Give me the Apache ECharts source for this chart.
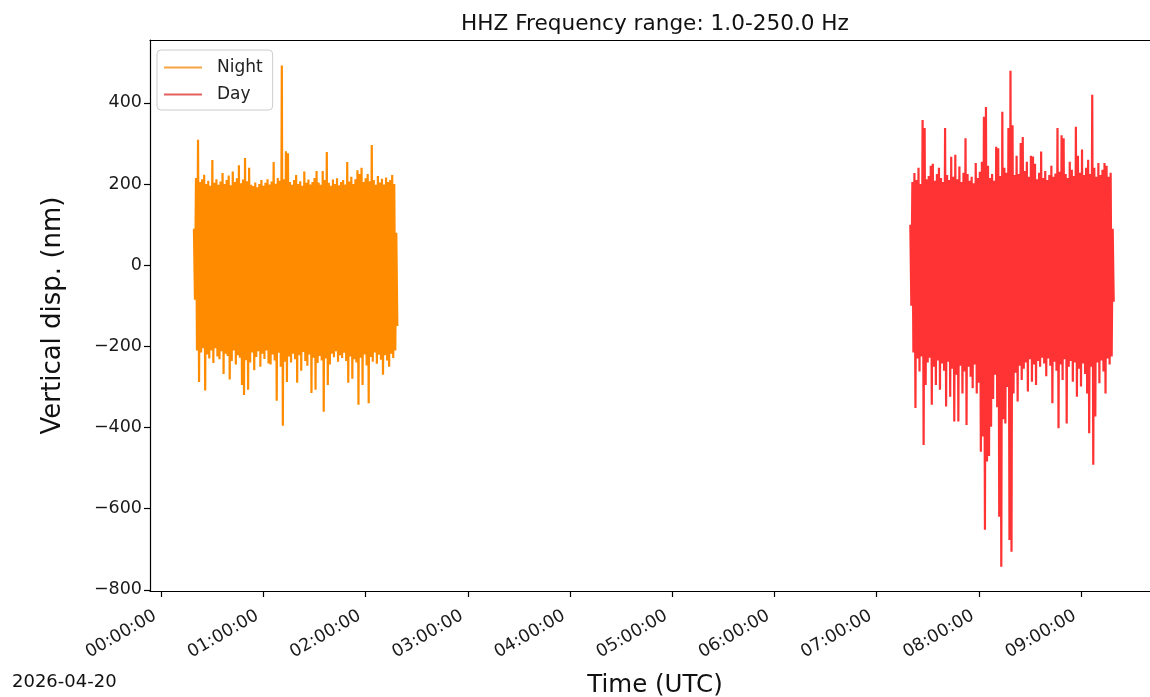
<!DOCTYPE html>
<html>
<head>
<meta charset="utf-8">
<script src="https://cdn.jsdelivr.net/npm/echarts@6/dist/echarts.min.js"></script>
<style>
html,body{margin:0;padding:0;background:#fff;}
#chart{width:1150px;height:697px;}
</style>
</head>
<body>
<div id="chart"></div>
<script>
// ---- Data ----
// Time in hours (UTC). Each trace is given as per-bin max / min displacement (nm).
const xTickValues = [0, 1, 2, 3, 4, 5, 6, 7, 8, 9];
const xTickLabels = ["00:00:00","01:00:00","02:00:00","03:00:00","04:00:00","05:00:00","06:00:00","07:00:00","08:00:00","09:00:00"];
const yTickValues = [-800, -600, -400, -200, 0, 200, 400];

const binHours = 0.02;
const nightStart = 0.32;
const dayStart = 7.33;

const nightUpper = [90,215,309,205,212,223,200,208,196,259,203,212,198,206,227,200,210,221,197,231,
  205,214,246,202,211,264,207,240,198,195,204,192,200,210,196,203,212,199,206,254,
  201,215,208,492,212,281,276,205,198,210,222,200,207,196,231,203,211,199,205,215,
  232,204,198,232,210,279,203,196,211,200,214,197,205,210,199,254,206,218,200,212,
  234,225,240,205,214,225,207,296,210,198,220,204,213,199,216,205,210,222,200,80];
const nightLower = [-85,-210,-288,-215,-205,-309,-220,-230,-210,-241,-205,-225,-232,-212,-268,-218,-224,-282,-236,-210,
  -245,-222,-228,-295,-320,-234,-307,-240,-215,-259,-226,-212,-250,-218,-231,-210,-242,-245,-220,-235,
  -334,-216,-250,-396,-238,-288,-225,-240,-218,-232,-290,-222,-260,-214,-236,-248,-220,-315,-228,-307,
  -241,-224,-235,-361,-230,-295,-245,-218,-227,-212,-238,-222,-229,-216,-236,-290,-225,-280,-232,-240,
  -344,-228,-295,-220,-247,-340,-226,-238,-215,-243,-221,-233,-270,-222,-235,-250,-218,-229,-210,-150];

const dayUpper = [100,205,227,210,240,200,358,338,212,220,245,250,208,225,240,215,205,338,222,210,
  267,218,272,212,243,205,228,313,225,208,218,202,252,215,230,255,366,390,245,215,
  225,208,292,288,220,378,240,228,338,479,345,222,270,225,301,316,232,255,218,270,
  268,250,212,228,280,215,232,210,222,245,218,226,338,230,320,313,225,215,255,235,
  220,341,270,228,285,222,240,260,225,420,240,218,252,222,235,252,245,218,228,90];
const dayLower = [-100,-215,-352,-230,-262,-225,-443,-295,-240,-228,-344,-250,-295,-235,-307,-242,-260,-348,-238,-324,
  -255,-385,-270,-385,-248,-316,-262,-394,-250,-275,-303,-245,-316,-290,-460,-422,-652,-484,-470,-398,
  -330,-270,-350,-620,-743,-380,-390,-300,-677,-706,-316,-265,-336,-248,-283,-255,-240,-311,-232,-287,
  -245,-295,-236,-250,-228,-242,-274,-230,-248,-340,-238,-260,-402,-245,-283,-232,-390,-250,-236,-287,
  -240,-324,-255,-299,-242,-268,-316,-414,-250,-492,-373,-240,-291,-235,-262,-316,-230,-245,-225,-90];

function trace(start, upper, lower) {
  const pts = [];
  for (let k = 0; k < upper.length; k++) {
    pts.push([start + k * binHours, upper[k]]);
    pts.push([start + (k + 0.5) * binHours, lower[k]]);
  }
  return pts;
}

const FONT = 'DejaVu Sans';
const X_MIN = -0.11, X_MAX = 9.773;
const chart = echarts.init(document.getElementById('chart'), null, {renderer: 'canvas'});
const minus = v => String(v).replace('-', '\u2212');

chart.setOption({
  animation: false,
  backgroundColor: '#fff',
  title: {
    text: 'HHZ Frequency range: 1.0-250.0 Hz',
    left: 650, top: 8, textAlign: 'center',
    textStyle: {fontFamily: FONT, fontSize: 21.6, fontWeight: 'normal', color: '#111'}
  },
  legend: {
    orient: 'vertical', left: 157, top: 50,
    padding: [9, 10, 7, 7],
    itemWidth: 38, itemHeight: 2, itemGap: 10,
    borderColor: '#cccccc', borderWidth: 1, borderRadius: 4,
    backgroundColor: 'rgba(255,255,255,0.8)',
    textStyle: {fontFamily: FONT, fontSize: 17, color: '#222', padding: [0, 0, 0, 10]},
    data: [
      {name: 'Night', icon: 'rect', itemStyle: {color: '#f7a540'}},
      {name: 'Day', icon: 'rect', itemStyle: {color: '#e4605f'}}
    ]
  },
  grid: {left: 150, top: 40, width: 1010, height: 551, show: false, containLabel: false, outerBoundsMode: 'none'},
  xAxis: [{
    type: 'value', min: X_MIN, max: X_MAX,
    name: 'Time (UTC)', nameLocation: 'middle', nameGap: 82,
    nameTextStyle: {fontFamily: FONT, fontSize: 24.5, color: '#111'},
    axisLine: {show: true, onZero: false, lineStyle: {color: '#000', width: 1.2}},
    axisTick: {show: true, length: 6, customValues: xTickValues, lineStyle: {color: '#000', width: 1.2}},
    axisLabel: {
      customValues: xTickValues, rotate: 30, margin: 20, padding: [0, 7, 0, 0],
      fontFamily: FONT, fontSize: 17.5, color: '#1a1a1a',
      formatter: v => xTickLabels[xTickValues.indexOf(Math.round(v))]
    },
    splitLine: {show: false}
  }, {
    type: 'value', position: 'top', min: X_MIN, max: X_MAX,
    axisLine: {show: true, onZero: false, lineStyle: {color: '#000', width: 1.2}},
    axisTick: {show: false}, axisLabel: {show: false}, splitLine: {show: false}
  }],
  yAxis: {
    type: 'value', min: -803, max: 555,
    name: 'Vertical disp. (nm)', nameLocation: 'middle', nameGap: 84,
    nameTextStyle: {fontFamily: FONT, fontSize: 26, color: '#111'},
    axisLine: {show: true, onZero: false, lineStyle: {color: '#000', width: 1.2}},
    axisTick: {show: true, length: 6, customValues: yTickValues, lineStyle: {color: '#000', width: 1.2}},
    axisLabel: {
      customValues: yTickValues, margin: 8,
      fontFamily: FONT, fontSize: 17.5, color: '#1a1a1a',
      formatter: v => minus(Math.round(v))
    },
    splitLine: {show: false}
  },
  graphic: [{
    type: 'text', left: 12, top: 673,
    style: {text: '2026-04-20', fontFamily: FONT, fontSize: 18, fill: '#111'}
  }],
  series: [
    {
      name: 'Night', type: 'line', showSymbol: false, symbol: 'none', sampling: false,
      data: trace(nightStart, nightUpper, nightLower),
      lineStyle: {color: '#ff8c00', width: 2.2},
      itemStyle: {color: '#ff8c00'}
    },
    {
      name: 'Day', type: 'line', showSymbol: false, symbol: 'none', sampling: false,
      data: trace(dayStart, dayUpper, dayLower),
      lineStyle: {color: '#ff3333', width: 2.2},
      itemStyle: {color: '#ff3333'}
    }
  ]
});
</script>
</body>
</html>
